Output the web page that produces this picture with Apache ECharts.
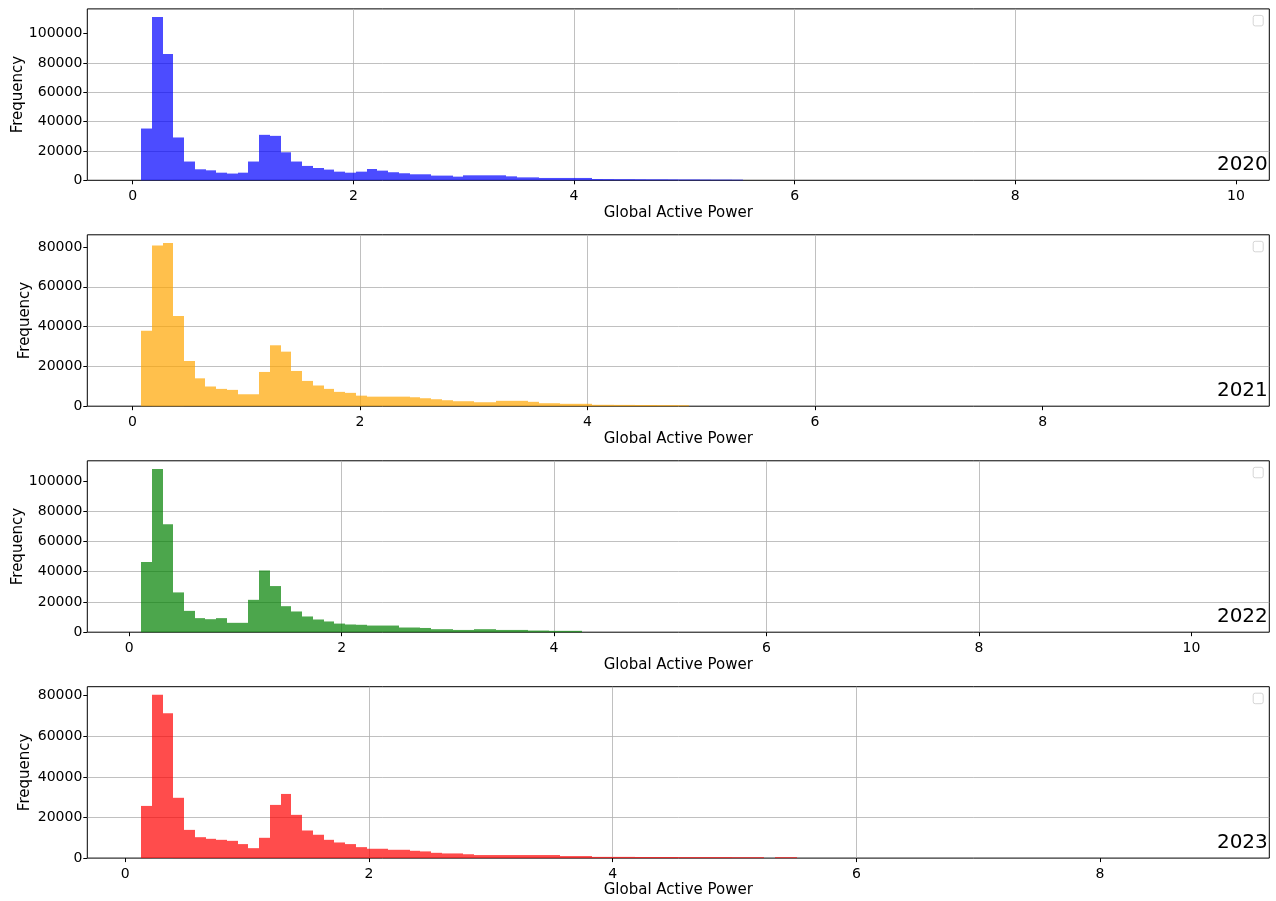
<!DOCTYPE html>
<html><head><meta charset="utf-8">
<script src="https://cdn.jsdelivr.net/npm/echarts@6/dist/echarts.min.js"></script>
<style>html,body{margin:0;padding:0;background:#fff}#c{width:1276px;height:901px}</style>
</head><body><div id="c"></div>
<script>
// ---- data ----
const years = ['2020', '2021', '2022', '2023'];
const barColors = ['rgba(0,0,255,0.7)', 'rgba(255,165,0,0.7)', 'rgba(0,128,0,0.7)', 'rgba(255,0,0,0.7)'];
// min / max of Global Active Power per year (histogram spans this range with 100 equal bins)
const rangeMin = [0.0755, 0.076, 0.112, 0.129];
const rangeMax = [9.815, 9.52, 10.227, 8.948];
const binCount = 100;
// bin counts from the first bin onwards (remaining bins are ~0)
const counts2020 = [35300, 111300, 86100, 29200, 12800, 7500, 6800, 5200, 4600, 5200,
  12800, 31000, 30300, 19100, 12800, 9800, 8400, 7300, 5900, 5200,
  5900, 7700, 6600, 5500, 4800, 4100, 4100, 3200, 3200, 2500,
  3400, 3400, 3400, 3400, 2700, 2000, 2000, 1600, 1600, 1600,
  1600, 1600, 900, 850, 800, 800, 750, 700, 700, 650,
  600, 600, 550, 500, 500, 450];
const counts2021 = [37900, 80700, 82000, 45300, 22700, 14000, 9900, 8700, 8200, 6000,
  6000, 17200, 30600, 27400, 17700, 12700, 10400, 8700, 7200, 6700,
  5300, 4800, 4800, 4800, 4800, 4500, 4000, 3500, 3000, 2500,
  2500, 2000, 2000, 2700, 2700, 2700, 2200, 1500, 1500, 1200,
  1200, 1200, 700, 700, 650, 650, 600, 600, 550, 550,
  500];
const counts2022 = [46400, 107900, 71300, 26300, 14100, 9300, 8600, 9300, 6200, 6200,
  21400, 40800, 30500, 17200, 13700, 10400, 8400, 7100, 5700, 5100,
  4900, 4400, 4400, 4400, 3100, 3100, 2800, 2000, 2000, 1500,
  1500, 2000, 2000, 1500, 1500, 1500, 1100, 1100, 900, 900,
  900];
const counts2023 = [25700, 80400, 71300, 29700, 13900, 10300, 9500, 9000, 8500, 6900,
  4900, 10000, 26200, 31600, 21300, 13600, 11500, 9000, 7700, 6900,
  5400, 4600, 4600, 4100, 4100, 3600, 3300, 2600, 2300, 2300,
  1900, 1500, 1500, 1500, 1500, 1500, 1500, 1500, 1500, 1000,
  1000, 1000, 600, 600, 600, 600, 550, 550, 550, 550,
  500, 500, 500, 500, 500, 450, 450, 450, 0, 450,
  450];
const allCounts = [counts2020, counts2021, counts2022, counts2023];
const xTicks = [[0, 2, 4, 6, 8, 10], [0, 2, 4, 6, 8], [0, 2, 4, 6, 8, 10], [0, 2, 4, 6, 8]];
const yTicks = [[0, 20000, 40000, 60000, 80000, 100000], [0, 20000, 40000, 60000, 80000],
  [0, 20000, 40000, 60000, 80000, 100000], [0, 20000, 40000, 60000, 80000]];
const xLabel = 'Global Active Power';
const yLabel = 'Frequency';

// ---- layout ----
const FONT = 'DejaVu Sans';
const gLeft = 87.3, gWidth = 1182, gHeight = 171.4;
const gTops = [8.9, 234.8, 460.8, 686.7];
const yNameGaps = [62, 55, 62, 55];

const grids = [], xAxes = [], yAxes = [], series = [], graphics = [];
years.forEach((yr, i) => {
  const lo = rangeMin[i], hi = rangeMax[i], R = hi - lo, w = R / binCount;
  const counts = allCounts[i];
  const data = counts.map((c, k) => [lo + k * w, lo + (k + 1) * w, c]);
  const ymax = Math.max(...counts) * 1.05;
  grids.push({left: gLeft, top: gTops[i], width: gWidth, height: gHeight, show: true,
    containLabel: false, outerBoundsMode: 'none',
    borderColor: '#000', borderWidth: 1, backgroundColor: 'transparent'});
  xAxes.push({type: 'value', gridIndex: i, min: lo - 0.05 * R, max: hi + 0.05 * R,
    name: xLabel, nameLocation: 'middle', nameGap: 25, nameMoveOverlap: false,
    nameTextStyle: {fontFamily: FONT, fontSize: 15, color: '#000'},
    axisLine: {show: false, onZero: false},
    axisTick: {show: true, length: 4, customValues: xTicks[i], lineStyle: {color: '#000', width: 1}},
    axisLabel: {customValues: xTicks[i], fontFamily: FONT, fontSize: 14, color: '#000', margin: 9,
      formatter: v => String(v)},
    splitLine: {show: true, showMinLine: false, showMaxLine: false, lineStyle: {color: '#b0b0b0', width: 0.8}}});
  yAxes.push({type: 'value', gridIndex: i, min: 0, max: ymax, interval: 20000,
    name: yLabel, nameLocation: 'middle', nameGap: yNameGaps[i], nameMoveOverlap: false,
    nameTextStyle: {fontFamily: FONT, fontSize: 15, color: '#000'},
    axisLine: {show: false, onZero: false},
    axisTick: {show: true, length: 4, customValues: yTicks[i], lineStyle: {color: '#000', width: 1}},
    axisLabel: {customValues: yTicks[i], fontFamily: FONT, fontSize: 14, color: '#000', margin: 5,
      formatter: v => String(v)},
    splitLine: {show: true, showMinLine: false, showMaxLine: false, lineStyle: {color: '#b0b0b0', width: 0.8}}});
  const col = barColors[i];
  series.push({type: 'custom', xAxisIndex: i, yAxisIndex: i, data: data, silent: true, z: 2,
    encode: {x: [0, 1], y: 2},
    renderItem: function (params, api) {
      const p0 = api.coord([api.value(0), api.value(2)]);
      const p1 = api.coord([api.value(1), 0]);
      const x0 = Math.round(p0[0]), x1 = Math.round(p1[0]);
      return {type: 'rect', shape: {x: x0, y: p0[1], width: x1 - x0, height: p1[1] - p0[1]},
        style: {fill: col}};
    }});
  const gBottom = gTops[i] + gHeight;
  graphics.push({type: 'text', right: 1276 - (gLeft + gWidth) + 1.5, top: gBottom - 25.5, z: 10,
    style: {text: yr, fontFamily: FONT, fontSize: 20, fill: '#000'}});
  graphics.push({type: 'rect', left: gLeft + gWidth - 16.6, top: gTops[i] + 6, z: 10,
    shape: {width: 10, height: 10.5, r: 2}, style: {fill: '#fff', stroke: '#d6d6d6', lineWidth: 1}});
});

const chart = echarts.init(document.getElementById('c'), null, {renderer: 'canvas'});
chart.setOption({
  animation: false,
  backgroundColor: '#fff',
  grid: grids, xAxis: xAxes, yAxis: yAxes, series: series, graphic: graphics
});
</script></body></html>
